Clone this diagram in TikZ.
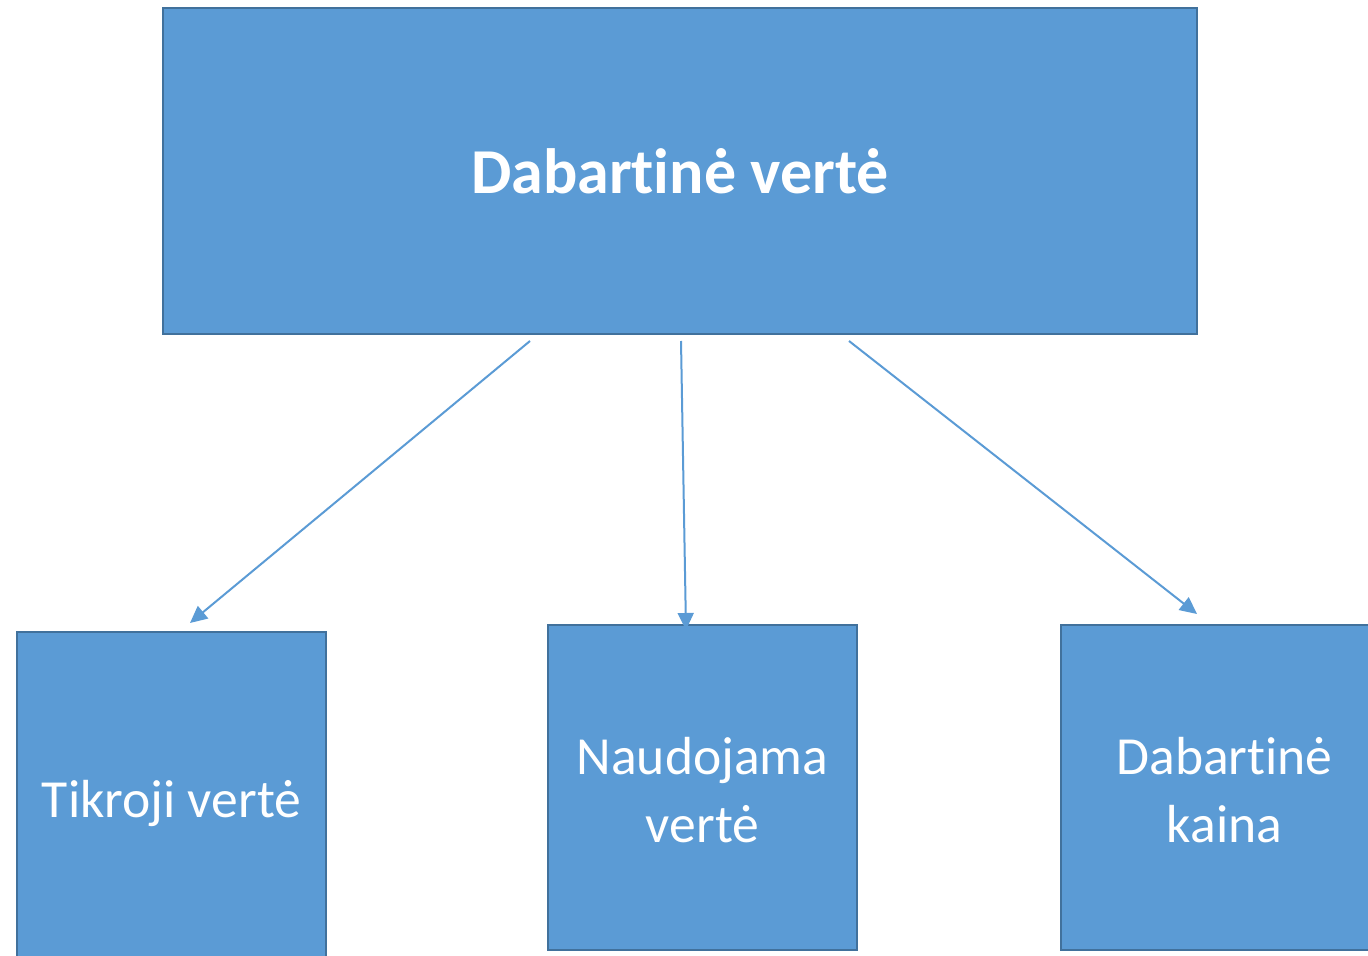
\documentclass[tikz,border=0pt]{standalone}
\usepackage{fontspec}
\setmainfont[Ligatures=NoCommon]{Carlito}
\usetikzlibrary{arrows.meta}
\definecolor{boxfill}{HTML}{5B9BD5}
\definecolor{boxline}{HTML}{41719C}
\tikzset{
  box/.style={draw=boxline, fill=boxfill, line width=1pt, inner sep=0pt, text=white, align=center, font=\fontsize{26.8}{34}\selectfont},
  link/.style={draw=boxfill, line width=1pt, -{Triangle[length=8.5pt,width=8pt]}}
}
\begin{document}
\begin{tikzpicture}[x=0.5pt,y=-0.5pt]
\useasboundingbox (0,0) rectangle (1368,956);
\begin{scope}
\clip (0,0) rectangle (1368,956);
\node[box, minimum width=517pt, minimum height=163pt, font=\fontsize{32}{38}\selectfont\bfseries] (top) at (680,171) {Dabartinė vertė};
\node[box, minimum width=154.5pt, minimum height=175pt] (left) at (171.5,807) {};
\node[text=white, font=\fontsize{26.8}{34}\selectfont] (lefttext) at (171.5,803) {Tikroji vertė};
\node[box, minimum width=154.5pt, minimum height=162.5pt] (mid) at (702.5,787.5) {};
\node[text=white, align=center, font=\fontsize{26.8}{34}\selectfont] (midtext) at (702.5,790) {Naudojama\\vertė};
\node[box, minimum width=163.5pt, minimum height=162.5pt] (right) at (1224.5,787.5) {};
\node[text=white, align=center, font=\fontsize{26.8}{34}\selectfont] (righttext) at (1224.5,790) {Dabartinė\\kaina};
\end{scope}
\coordinate (s1) at (530,341);
\coordinate (s2) at (681,341);
\coordinate (s3) at (849,341);
\coordinate (e1) at (190,623);
\coordinate (e2) at (686,630);
\coordinate (e3) at (1197,614);
\draw[link] (s1) -- (e1);
\draw[link] (s2) -- (e2);
\draw[link] (s3) -- (e3);
\end{tikzpicture}
\end{document}
